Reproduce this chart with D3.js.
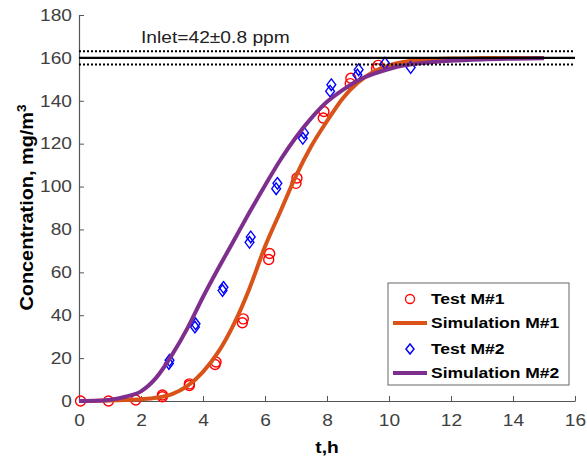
<!DOCTYPE html>
<html>
<head>
<meta charset="utf-8">
<script src="https://cdn.jsdelivr.net/npm/d3@7"></script>
<style>
  html, body { margin: 0; padding: 0; background: #fff; }
  svg { display: block; font-family: "Liberation Sans", Arial, Helvetica, sans-serif; }
</style>
</head>
<body>
<svg id="chart" width="587" height="461"></svg>
<script>
// ---- data ----
const xTicks = [0, 2, 4, 6, 8, 10, 12, 14, 16];
const yTicks = [0, 20, 40, 60, 80, 100, 120, 140, 160, 180];

const inletLevel = 160;
const inletBand = [156.95, 163.05];
const inletLabel = "Inlet=42\u00B10.8 ppm";

// Test M#1 (t [h], concentration)
const testM1T = [0.05, 0.95, 1.83, 2.69, 2.69, 3.56, 3.56, 4.39, 4.42, 5.27, 5.30, 6.12, 6.15, 7.00, 7.03, 7.88, 7.90, 8.75, 8.77, 9.60, 9.65];
const testM1C = [0.0, 0.0, 0.5, 2.0, 2.8, 7.2, 8.0, 17.0, 18.2, 36.5, 38.3, 66.0, 68.8, 101.5, 104.0, 132.0, 135.0, 148.0, 150.5, 155.0, 156.5];

// Simulation M#1
const simM1T = [0, 0.5, 1, 1.5, 2, 2.5, 3, 3.5, 4, 4.5, 5, 5.5, 6, 6.5, 7, 7.5, 8, 8.5, 9, 9.5, 10, 10.5, 11, 12, 13, 14, 15];
const simM1C = [0, 0.05, 0.2, 0.45, 0.8, 1.5, 3.2, 7.0, 13.6, 23.0, 36.0, 52.5, 72.0, 88.5, 105.0, 119.0, 130.5, 141.0, 148.5, 153.5, 156.5, 158.2, 159.0, 159.7, 159.9, 160.0, 160.0];

// Test M#2
const testM2T = [2.90, 2.92, 3.74, 3.76, 4.63, 4.66, 5.50, 5.54, 6.36, 6.40, 7.22, 7.26, 8.10, 8.14, 8.98, 9.02, 9.87, 10.70];
const testM2C = [17.5, 19.0, 34.5, 36.0, 51.5, 53.0, 74.0, 76.5, 99.0, 101.5, 122.5, 125.0, 144.5, 147.5, 152.0, 154.5, 157.5, 155.5];

// Simulation M#2
const simM2T = [0, 0.5, 1, 1.5, 2, 2.5, 3, 3.5, 4, 4.5, 5, 5.5, 6, 6.5, 7, 7.5, 8, 8.5, 9, 9.5, 10, 10.5, 11, 12, 13, 14, 15];
const simM2C = [0, 0.1, 0.6, 2.0, 4.5, 11.0, 21.5, 34.0, 48.5, 62.0, 75.0, 88.0, 100.5, 112.5, 123.0, 132.0, 139.5, 145.0, 149.5, 152.5, 154.8, 156.5, 157.5, 158.7, 159.3, 159.6, 159.8];

const legendLabels = ["Test M#1", "Simulation M#1", "Test M#2", "Simulation M#2"];

// ---- layout ----
const svg = d3.select("#chart");
const pL = 79, pR = 575, pT = 15, pB = 401;

const x = d3.scaleLinear().domain([0, 16]).range([pL, pR]);
const y = d3.scaleLinear().domain([0, 180]).range([pB, pT]);

const cOrange = "#D95319", cPurple = "#7E2F8E", cRed = "#FF0000", cBlue = "#0000FF";
const tickTextColor = "#404040";
const TXS = 1.16; // horizontal text widening to match reference glyph widths

const zip = (a, b) => a.map((v, i) => [v, b[i]]);

// stretch a text element horizontally around its anchor (ax, ay)
function widen(sel, ax, ay, f) {
  sel.attr("transform", `translate(${ax},${ay}) scale(${f},1) translate(${-ax},${-ay})`);
}

// axes
const xAxis = d3.axisBottom(x).tickValues(xTicks).tickSizeInner(-5).tickSizeOuter(0).tickPadding(13);
const yAxis = d3.axisLeft(y).tickValues(yTicks).tickSizeInner(-5).tickSizeOuter(0).tickPadding(7);

const gx = svg.append("g").attr("transform", `translate(0,${pB})`).call(xAxis);
const gy = svg.append("g").attr("transform", `translate(${pL},0)`).call(yAxis);
[gx, gy].forEach(g => {
  g.select(".domain").attr("stroke", "#555").attr("stroke-width", 1.2);
  g.selectAll(".tick line").attr("stroke", "#555").attr("stroke-width", 1);
  g.selectAll(".tick text").attr("fill", tickTextColor).attr("font-size", 16.5)
    .attr("font-family", "'Liberation Sans', Arial, sans-serif");
});
gx.selectAll(".tick text").attr("transform", `scale(${TXS},1)`).each(function () { d3.select(this).attr("x", 0); });
gy.selectAll(".tick text").each(function () { widen(d3.select(this), -7, 0, TXS); });

// axis labels
const xl = svg.append("text").attr("x", (pL + pR) / 2).attr("y", 453)
  .attr("text-anchor", "middle").attr("font-weight", "bold").attr("font-size", 16).attr("fill", "#000")
  .text("t,h");
widen(xl, (pL + pR) / 2, 453, 1.2);

const yl = svg.append("text").attr("transform", `translate(33,${(pT + pB) / 2 - 0.5}) rotate(-90) scale(1.135,1)`)
  .attr("text-anchor", "middle").attr("font-weight", "bold").attr("font-size", 17.5).attr("fill", "#000");
yl.append("tspan").text("Concentration, mg/m");
yl.append("tspan").attr("dy", -7).attr("font-size", 12).text("3");

// plot
const line = d3.line().x(d => x(d[0])).y(d => y(d[1])).curve(d3.curveMonotoneX);
const plot = svg.append("g");

function circles(data, color) {
  plot.append("g").selectAll("circle").data(data).join("circle")
    .attr("cx", d => x(d[0])).attr("cy", d => y(d[1])).attr("r", 5)
    .attr("fill", "none").attr("stroke", color).attr("stroke-width", 1.4);
}
function diamonds(data, color) {
  plot.append("g").selectAll("path").data(data).join("path")
    .attr("d", d => { const cx = x(d[0]), cy = y(d[1]); return `M${cx},${cy - 5.8}L${cx + 4.4},${cy}L${cx},${cy + 5.8}L${cx - 4.4},${cy}Z`; })
    .attr("fill", "none").attr("stroke", color).attr("stroke-width", 1.4);
}
function sim(data, color) {
  plot.append("path").datum(data).attr("d", line)
    .attr("fill", "none").attr("stroke", color).attr("stroke-width", 4);
}

circles(zip(testM1T, testM1C), cRed);
sim(zip(simM1T, simM1C), cOrange);
diamonds(zip(testM2T, testM2C), cBlue);
sim(zip(simM2T, simM2C), cPurple);

// inlet lines
svg.append("line").attr("x1", x(0)).attr("x2", x(16)).attr("y1", y(inletLevel)).attr("y2", y(inletLevel))
  .attr("stroke", "#000").attr("stroke-width", 2.2);
inletBand.forEach(v => {
  svg.append("line").attr("x1", x(0)).attr("x2", x(16)).attr("y1", y(v)).attr("y2", y(v))
    .attr("stroke", "#000").attr("stroke-width", 2).attr("stroke-dasharray", "2,2");
});
const il = svg.append("text").attr("x", 141).attr("y", 43).attr("font-size", 17).attr("fill", "#222")
  .text(inletLabel);
widen(il, 141, 43, 1.13);

// legend
const lg = svg.append("g");
lg.append("rect").attr("x", 388).attr("y", 283).attr("width", 181).attr("height", 102)
  .attr("fill", "#fff").attr("stroke", "#666").attr("stroke-width", 1);
const rowY = [299, 323, 349, 373];
legendLabels.forEach((lab, i) => {
  const ry = rowY[i];
  if (i === 0) {
    lg.append("circle").attr("cx", 410).attr("cy", ry).attr("r", 4.5).attr("fill", "none").attr("stroke", cRed).attr("stroke-width", 1.3);
  } else if (i === 2) {
    lg.append("path").attr("d", `M410,${ry - 5}L414,${ry}L410,${ry + 5}L406,${ry}Z`).attr("fill", "none").attr("stroke", cBlue).attr("stroke-width", 1.5);
  } else {
    lg.append("line").attr("x1", 393).attr("x2", 427).attr("y1", ry).attr("y2", ry)
      .attr("stroke", i === 1 ? cOrange : cPurple).attr("stroke-width", 4);
  }
  const t = lg.append("text").attr("x", 431).attr("y", ry + 5.5).attr("font-size", 15.5).attr("font-weight", "bold").attr("fill", "#000").text(lab);
  widen(t, 431, ry + 5.5, 1.13);
});
</script>
</body>
</html>
